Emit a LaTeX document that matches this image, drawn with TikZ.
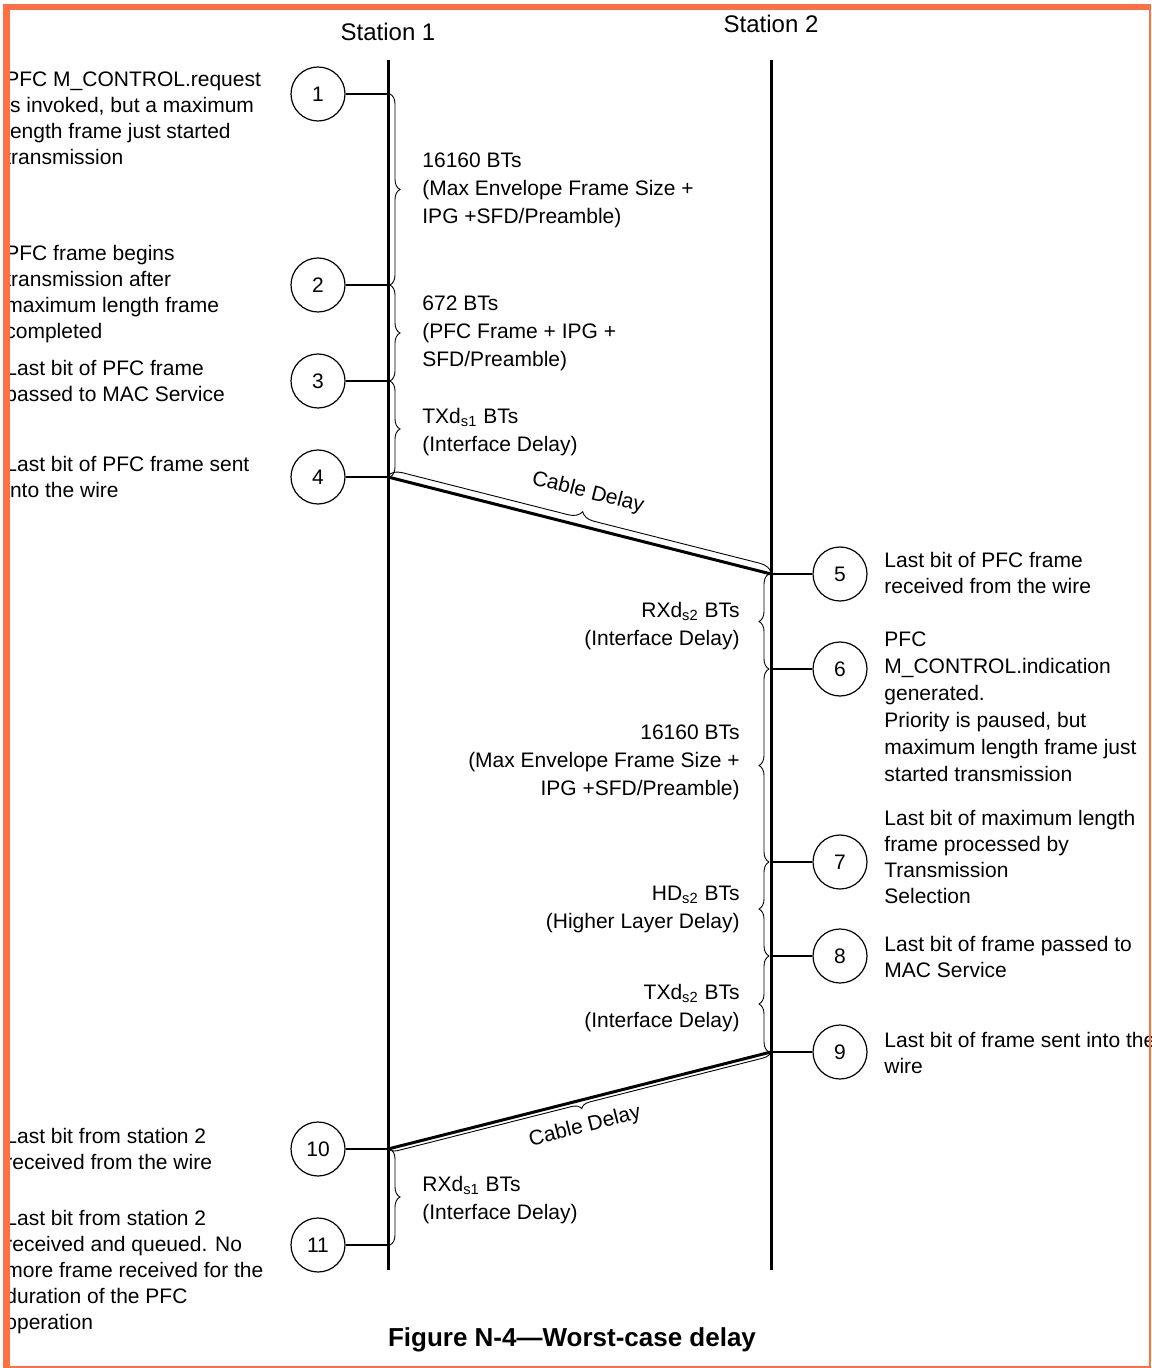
\documentclass[tikz,border=0pt]{standalone}
\usepackage{fontspec}
\setmainfont{Liberation Sans}
\usetikzlibrary{decorations.pathreplacing}
\definecolor{frameorange}{RGB}{255,112,67}
\begin{document}
\begin{tikzpicture}[x=0.5pt,y=-0.5pt,
  note/.style={inner sep=0pt, anchor=north west, align=left, font=\fontsize{10.5}{13}\selectfont},
  notejust/.style={inner sep=0pt, anchor=north west, align=left, font=\fontsize{10.5}{13.5}\selectfont},
  delayL/.style={inner sep=0pt, anchor=north west, align=left, font=\fontsize{10.5}{14}\selectfont},
  delayR/.style={inner sep=0pt, anchor=north east, align=right, font=\fontsize{10.5}{14}\selectfont},
  event/.style={circle, draw, line width=0.6pt, minimum size=27pt, inner sep=0pt, font=\fontsize{10.5}{12}\selectfont},
  station/.style={line width=1.5pt},
  tick/.style={line width=1pt},
  cable/.style={line width=1.5pt},
  span/.style={decorate, line width=0.45pt, decoration={brace, amplitude=5pt}},
  cablespan/.style={decorate, line width=0.45pt, decoration={brace, amplitude=#1}},
  stationlabel/.style={inner sep=0pt, font=\fontsize{12}{14}\selectfont},
]
% page
\useasboundingbox (0,0) rectangle (1151,1368);
\fill[white] (0,0) rectangle (1151,1368);

% stations
\node[stationlabel] (st1) at (388,32) {Station 1};
\node[stationlabel] (st2) at (771,24) {Station 2};
\coordinate (s1a) at (388,60);
\coordinate (s1b) at (388,1270);
\coordinate (s2a) at (771,60);
\coordinate (s2b) at (771,1270);
\draw[station] (s1a) -- (s1b);
\draw[station] (s2a) -- (s2b);

% events
\node[event] (c1) at (318,94) {1};
\node[event] (c2) at (318,285) {2};
\node[event] (c3) at (318,381) {3};
\node[event] (c4) at (318,477) {4};
\node[event] (c5) at (840,574) {5};
\node[event] (c6) at (840,669) {6};
\node[event] (c7) at (840,862) {7};
\node[event] (c8) at (840,956) {8};
\node[event] (c9) at (840,1052) {9};
\node[event] (c10) at (318,1149) {10};
\node[event] (c11) at (318,1245) {11};

% points on the time lines
\foreach \i in {1,2,3,4,10,11} \coordinate (p\i) at (c\i -| s1a);
\foreach \i in {5,6,7,8,9} \coordinate (p\i) at (c\i -| s2a);
\foreach \i in {1,2,3,4,10,11} \draw[tick] (c\i.east) -- (p\i);
\foreach \i in {5,6,7,8,9} \draw[tick] (c\i.west) -- (p\i);

% cables
\draw[cable] (p4) -- (p5);
\draw[cable] (p9) -- (p10);
\draw[cablespan=6.5pt] ([yshift=0.6pt]p4) -- ([yshift=0.6pt]p5);
\draw[cablespan=4.5pt] ([yshift=0.3pt]p9) -- ([yshift=0.3pt]p10);
\node[stationlabel, font=\fontsize{10.5}{12}\selectfont, rotate=-14.2] (cd1) at (588,493) {Cable Delay};
\node[stationlabel, font=\fontsize{10.5}{12}\selectfont, rotate=14.2] (cd2) at (585,1127) {Cable Delay};

% spans on station 1
\draw[span] ([xshift=1pt]p1) -- ([xshift=1pt]p2);
\draw[span] ([xshift=1pt]p2) -- ([xshift=1pt]p3);
\draw[span] ([xshift=1pt]p3) -- ([xshift=1pt]p4);
\draw[span] ([xshift=1pt]p10) -- ([xshift=1pt]p11);
% spans on station 2
\draw[span] ([xshift=-1pt]p6) -- ([xshift=-1pt]p5);
\draw[span] ([xshift=-1pt]p7) -- ([xshift=-1pt]p6);
\draw[span] ([xshift=-1pt]p8) -- ([xshift=-1pt]p7);
\draw[span] ([xshift=-1pt]p9) -- ([xshift=-1pt]p8);

% delay labels
\node[delayL] (d12) at (422,152.5) {16160 BTs\\(Max Envelope Frame Size +\\IPG +SFD/Preamble)};
\node[delayL] (d23) at (422,295.5) {672 BTs\\(PFC Frame + IPG +\\SFD/Preamble)};
\node[delayL] (d34) at (422,407.5) {TXd\textsubscript{s1} BTs\\(Interface Delay)};
\node[delayL] (d1011) at (422,1175.5) {RXd\textsubscript{s1} BTs\\(Interface Delay)};
\node[delayR] (d56) at (740,601.5) {RXd\textsubscript{s2} BTs\\(Interface Delay)};
\node[delayR] (d67) at (740,724.5) {16160 BTs\\(Max Envelope Frame Size +\\IPG +SFD/Preamble)};
\node[delayR] (d78) at (740,885.5) {HD\textsubscript{s2} BTs\\(Higher Layer Delay)};
\node[delayR] (d89) at (740,983.5) {TXd\textsubscript{s2} BTs\\(Interface Delay)};

% event descriptions
\node[note] (n1) at (5,71.5) {PFC M\_CONTROL.request\\is invoked, but a maximum\\length frame just started\\transmission};
\node[note] (n2) at (5,244.5) {PFC frame begins\\transmission after\\maximum length frame\\completed};
\node[note] (n3) at (5,359.5) {Last bit of PFC frame\\passed to MAC Service};
\node[note] (n4) at (5,455.5) {Last bit of PFC frame sent\\into the wire};
\node[note] (n10) at (5,1127.5) {Last bit from station 2\\received from the wire};
\node[note] (n11) at (5,1209.5) {Last bit from station 2\\received and queued. No\\more frame received for the\\duration of the PFC\\operation};
\node[note] (n5) at (884,551.5) {Last bit of PFC frame\\received from the wire};
\node[notejust] (n6) at (884,631.5) {PFC\\M\_CONTROL.indication\\generated.\\Priority is paused, but\\maximum length frame just\\started transmission};
\node[note] (n7) at (884,809.5) {Last bit of maximum length\\frame processed by\\Transmission\\Selection};
\node[note] (n8) at (884,935.5) {Last bit of frame passed to\\MAC Service};
\node[note] (n9) at (884,1031.5) {Last bit of frame sent into the\\wire};

% caption
\node[inner sep=0pt, font=\fontsize{13}{15}\bfseries\selectfont] (cap) at (572,1340) {Figure N-4—Worst-case delay};

% frame
\fill[frameorange] (3,4) rectangle (1151,10);
\fill[frameorange] (3,4) rectangle (10,1368);
\fill[frameorange] (1148.5,4) rectangle (1151,1368);
\fill[frameorange] (3,1365.5) rectangle (1151,1368);
\end{tikzpicture}
\end{document}
